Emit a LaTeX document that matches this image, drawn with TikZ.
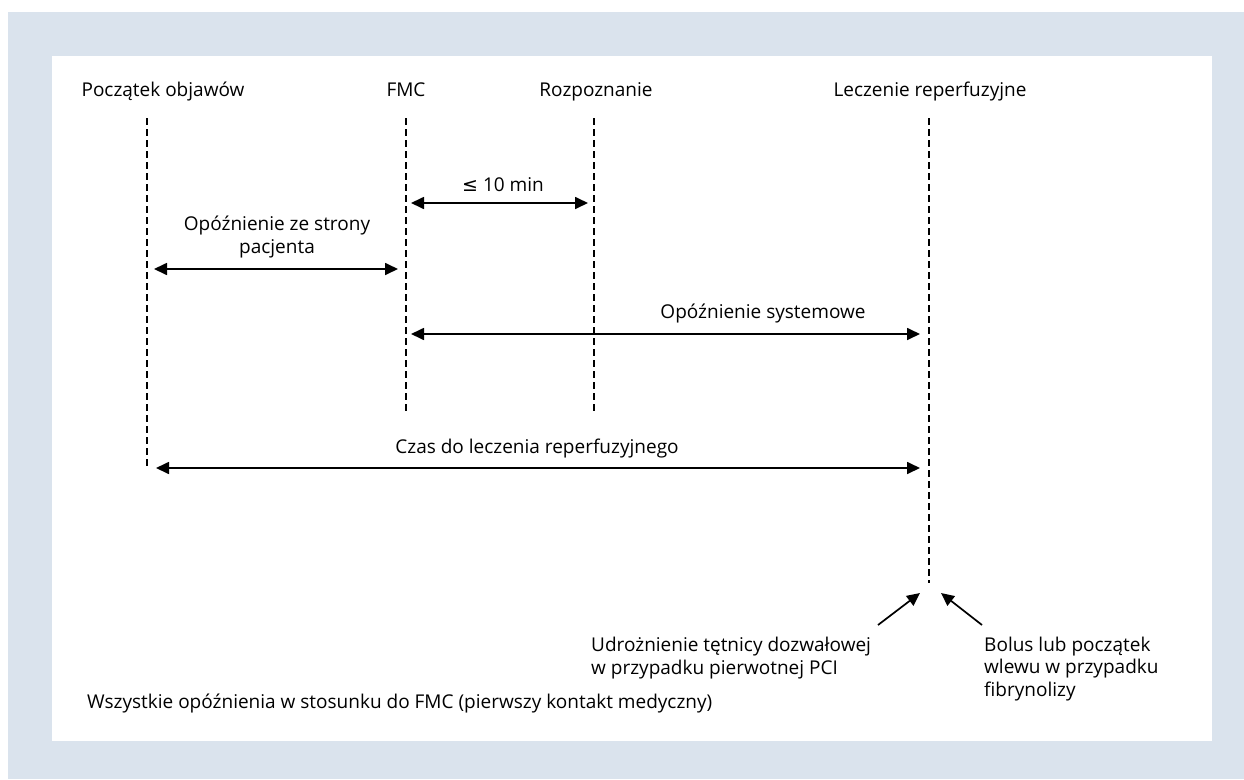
\documentclass[tikz,border=0pt]{standalone}
\usepackage{fontspec}
\setmainfont{Open Sans}
\newfontfamily\djv{DejaVu Sans}
\usetikzlibrary{arrows.meta}
\definecolor{bgblue}{HTML}{DAE3ED}
\tikzset{
  lbl/.style={font=\fontsize{19}{22.5}\selectfont, inner sep=0pt, anchor=base},
  lblL/.style={lbl, anchor=base west, align=left},
  vline/.style={line width=1.3pt, dash pattern=on 7pt off 4pt},
  darrow/.style={line width=1.7pt, {Triangle[length=13pt,width=12pt]}-{Triangle[length=13pt,width=12pt]}},
  sarrow/.style={line width=1.7pt, -{Triangle[length=13pt,width=12pt]}},
}
\begin{document}
\begin{tikzpicture}[x=1pt,y=-1pt]
\useasboundingbox (0,0) rectangle (1244,779);
\fill[white] (0,0) rectangle (1244,779);
\fill[bgblue] (8,12) rectangle (1244,779);
\fill[white] (52,56) rectangle (1212,741);

% headers
\node[lbl] (h1) at (163,96) {Początek objawów};
\node[lbl] (h2) at (406,96) {FMC};
\node[lbl] (h3) at (596,96) {Rozpoznanie};
\node[lbl] (h4) at (930,96) {Leczenie reperfuzyjne};

% dashed line ends
\coordinate (a1) at (147,118); \coordinate (b1) at (147,466);
\coordinate (a2) at (406,118); \coordinate (b2) at (406,411);
\coordinate (a3) at (594,118); \coordinate (b3) at (594,411);
\coordinate (a4) at (929,118); \coordinate (b4) at (929,583);
\draw[vline] (a1) -- (b1);
\draw[vline] (a2) -- (b2);
\draw[vline] (a3) -- (b3);
\draw[vline] (a4) -- (b4);

% arrows
\coordinate (p1) at (411,203); \coordinate (q1) at (588,203);
\draw[darrow] (p1) -- (q1);
\node[lbl] (t1) at (503,191) {{\djv ≤}\ 10 min};

\coordinate (p2) at (154,269); \coordinate (q2) at (398,269);
\draw[darrow] (p2) -- (q2);
\node[lbl, align=center] (t2) at (277,253) {Opóźnienie ze strony\\pacjenta};

\coordinate (p3) at (411,334); \coordinate (q3) at (920,334);
\draw[darrow] (p3) -- (q3);
\node[lbl] (t3) at (763,318) {Opóźnienie systemowe};

\coordinate (p4) at (156,468); \coordinate (q4) at (920,468);
\draw[darrow] (p4) -- (q4);
\node[lbl] (t4) at (537,453) {Czas do leczenia reperfuzyjnego};

% bottom notes
\node[lblL] (n1) at (591,674) {Udrożnienie tętnicy dozwałowej\\w przypadku pierwotnej PCI};
\node[lblL] (n2) at (984,696) {Bolus lub początek\\wlewu w przypadku\\fibrynolizy};
\coordinate (e1) at (878,625); \coordinate (f1) at (920,593);
\coordinate (e2) at (982,625); \coordinate (f2) at (941,593);
\draw[sarrow] (e1) -- (f1);
\draw[sarrow] (e2) -- (f2);

\node[lblL] (n3) at (87,708) {Wszystkie opóźnienia w stosunku do FMC (pierwszy kontakt medyczny)};
\end{tikzpicture}
\end{document}
